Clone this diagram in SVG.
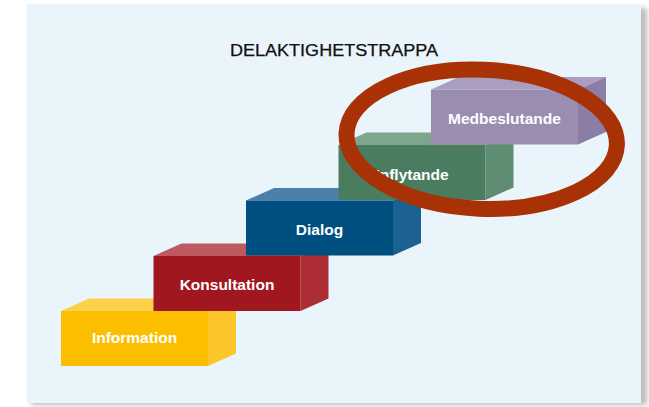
<svg xmlns="http://www.w3.org/2000/svg" width="649" height="407" viewBox="0 0 649 407">
<defs>
<filter id="sh" x="-5%" y="-5%" width="115%" height="115%">
<feGaussianBlur stdDeviation="2.5"/>
</filter>
<style>
.lbl{font-family:"Liberation Sans",Arial,sans-serif;font-weight:bold;font-size:15.5px;fill:#ffffff;text-anchor:middle}
.title{font-family:"Liberation Sans",Arial,sans-serif;font-size:16px;fill:#111111;text-anchor:middle;stroke:#111111;stroke-width:0.25}
</style>
</defs>
<rect x="0" y="0" width="649" height="407" fill="#ffffff"/>
<rect x="31" y="8" width="616" height="397" fill="#bdbdbd" filter="url(#sh)"/>
<rect x="27" y="4" width="614" height="399" fill="#eaf4fb"/>
<text class="title" x="334" y="56" textLength="208" lengthAdjust="spacingAndGlyphs">DELAKTIGHETSTRAPPA</text>

<g id="information">
<polygon points="61,311 89,298.5 236,298.5 208,311" fill="#fdd04c"/>
<polygon points="208,311 236,298.5 236,353.5 208,366" fill="#fcc628"/>
<rect x="61" y="311" width="147" height="55" fill="#fcbf00"/>
<text class="lbl" x="134.5" y="342.5">Information</text>
</g>
<g id="konsultation">
<polygon points="153.5,256 181.5,243.5 328.5,243.5 300.5,256" fill="#bd5a5f"/>
<polygon points="300.5,256 328.5,243.5 328.5,298.5 300.5,311" fill="#ad2d34"/>
<rect x="153.5" y="256" width="147" height="55" fill="#a0171f"/>
<text class="lbl" x="227" y="290">Konsultation</text>
</g>
<g id="dialog">
<polygon points="246,200.5 274,188 421,188 393,200.5" fill="#4a80a9"/>
<polygon points="393,200.5 421,188 421,243 393,255.5" fill="#1b6293"/>
<rect x="246" y="200.5" width="147" height="55" fill="#004f81"/>
<text class="lbl" x="319.5" y="235">Dialog</text>
</g>
<g id="inflytande">
<polygon points="338.5,145 366.5,132.5 513.5,132.5 485.5,145" fill="#7ea58d"/>
<polygon points="485.5,145 513.5,132.5 513.5,187.5 485.5,200" fill="#5e8d72"/>
<rect x="338.5" y="145" width="147" height="55" fill="#4a7c5f"/>
<text class="lbl" x="412" y="180">Inflytande</text>
</g>
<g id="medbeslutande">
<polygon points="431,89.5 459,77 606,77 578,89.5" fill="#a99ec0"/>
<polygon points="578,89.5 606,77 606,132 578,144.5" fill="#8a7ea6"/>
<rect x="431" y="89.5" width="147" height="55" fill="#9a8db0"/>
<text class="lbl" x="504.5" y="123.5">Medbeslutande</text>
</g>
<g id="connectors"></g>
<g id="highlight">
<ellipse cx="481.7" cy="139.2" rx="135.3" ry="69.5" transform="rotate(2.5 481.7 139.2)" fill="none" stroke="#a93106" stroke-width="16"/>
</g>
</svg>
